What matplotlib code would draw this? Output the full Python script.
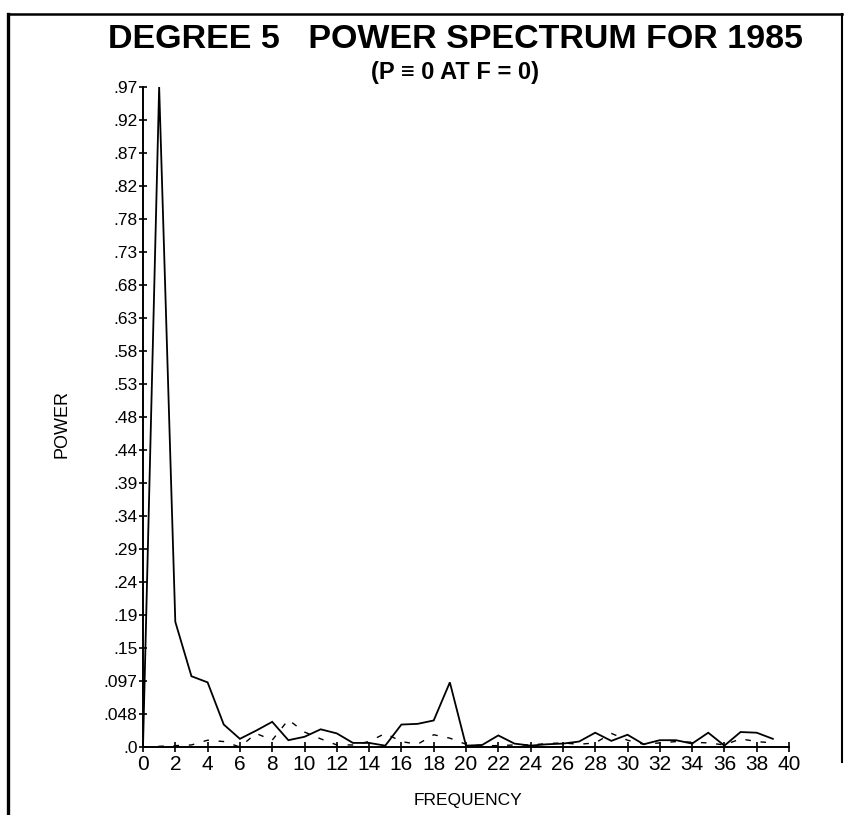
import matplotlib
matplotlib.use("Agg")
import matplotlib.pyplot as plt
from matplotlib.lines import Line2D
import numpy as np

# ---- data ----
freq = list(range(0, 40))
power_solid = [0.0, 0.97, 0.184, 0.104, 0.095, 0.033, 0.012, 0.024, 0.037, 0.010,
               0.015, 0.026, 0.020, 0.006, 0.006, 0.002, 0.033, 0.034, 0.039, 0.095,
               0.002, 0.003, 0.017, 0.005, 0.002, 0.004, 0.005, 0.008, 0.021, 0.009,
               0.018, 0.004, 0.010, 0.010, 0.005, 0.021, 0.002, 0.022, 0.021, 0.012]
power_dashed = [0.0, 0.001, 0.002, 0.003, 0.010, 0.008, 0.0, 0.020, 0.010, 0.040,
                0.022, 0.012, 0.003, 0.003, 0.008, 0.020, 0.008, 0.004, 0.018, 0.013,
                0.004, 0.002, 0.002, 0.003, 0.003, 0.005, 0.006, 0.004, 0.006, 0.020,
                0.010, 0.004, 0.006, 0.008, 0.007, 0.006, 0.003, 0.012, 0.008, 0.006]
x_ticks = list(range(0, 41, 2))
y_tick_labels = ['.0', '.048', '.097', '.15', '.19', '.24', '.29', '.34', '.39', '.44',
                 '.48', '.53', '.58', '.63', '.68', '.73', '.78', '.82', '.87', '.92', '.97']
y_max = 0.97

title = "DEGREE 5   POWER SPECTRUM FOR 1985"
subtitle = "(P \u2261 0 AT F = 0)"
xlabel = "FREQUENCY"
ylabel = "POWER"

fam = ['Liberation Sans', 'DejaVu Sans']
plt.rcParams['font.family'] = fam

W, H = 844, 815
fig = plt.figure(figsize=(W / 100, H / 100), dpi=100)
fig.patch.set_facecolor('white')

ax = fig.add_axes([143 / W, (H - 747) / H, (789 - 143) / W, (747 - 87) / H])
ax.plot(freq, power_solid, color='black', lw=1.3, solid_joinstyle='miter')
ax.plot(freq, power_dashed, color='black', lw=1.0, linestyle=(0, (4, 7)))

ax.set_xlim(0, 40)
ax.set_ylim(0, y_max)
for s in ['top', 'right']:
    ax.spines[s].set_visible(False)
for s in ['left', 'bottom']:
    ax.spines[s].set_linewidth(1.4)

ax.set_xticks(x_ticks)
ax.set_xticklabels([str(t) for t in x_ticks], fontsize=15, family=fam)
ytick_vals = np.linspace(0, y_max, len(y_tick_labels))
ax.set_yticks(ytick_vals)
ax.set_yticklabels(y_tick_labels, fontsize=12.5, family=fam)
ax.tick_params(axis='x', direction='inout', length=7, width=1.2, pad=2)
ax.tick_params(axis='y', direction='inout', length=6, width=1.2, pad=1)

fig.text(455 / W, 1 - 40 / H, title, ha='center', va='center', fontsize=24.5,
         fontweight='bold', family=fam)
fig.text(455 / W, 1 - 72 / H, subtitle, ha='center', va='center', fontsize=17,
         fontweight='bold', family=fam)
fig.text(468 / W, 1 - 800 / H, xlabel, ha='center', va='center', fontsize=12.5,
         family=fam)
fig.text(62 / W, 1 - 424 / H, ylabel, ha='center', va='center', fontsize=13,
         rotation=90, family=fam)

# page frame
fig.add_artist(Line2D([8 / W, 8 / W], [0, 1 - 14 / H], color='black', lw=2.4,
                      transform=fig.transFigure))
fig.add_artist(Line2D([8 / W, 842 / W], [1 - 14 / H, 1 - 14 / H], color='black', lw=1.8,
                      transform=fig.transFigure))
fig.add_artist(Line2D([842 / W, 842 / W], [1 - 14 / H, 1 - 762 / H], color='black', lw=1.5,
                      transform=fig.transFigure))

fig.savefig("out.png", dpi=100, facecolor='white')
